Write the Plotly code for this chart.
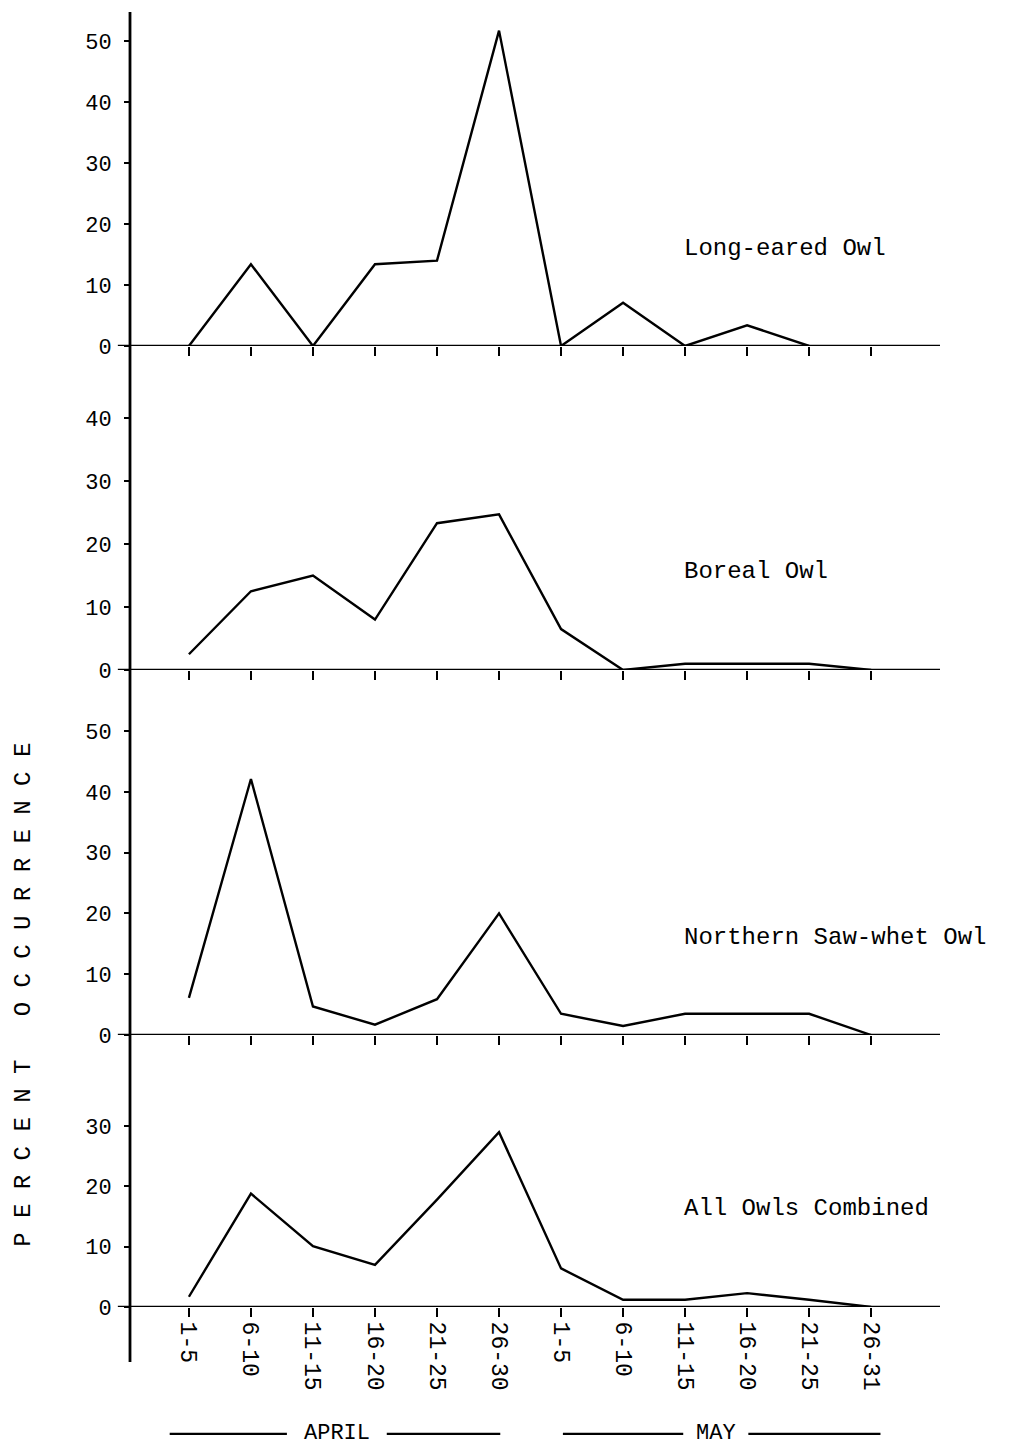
import plotly.graph_objects as go

periods = ["1-5", "6-10", "11-15", "16-20", "21-25", "26-30",
           "1-5", "6-10", "11-15", "16-20", "21-25", "26-31"]
long_eared = [0, 13.4, 0, 13.4, 14, 51.7, 0, 7.1, 0, 3.4, 0, None]
boreal = [2.5, 12.5, 15, 8, 23.3, 24.7, 6.5, 0, 1, 1, 1, 0]
saw_whet = [6.1, 42.1, 4.7, 1.7, 5.9, 20, 3.5, 1.5, 3.5, 3.5, 3.5, 0]
all_owls = [1.7, 18.8, 10.1, 7.0, 17.8, 29, 6.4, 1.2, 1.2, 2.3, 1.2, 0]

species = ["Long-eared Owl", "Boreal Owl", "Northern Saw-whet Owl", "All Owls Combined"]
series = [long_eared, boreal, saw_whet, all_owls]
y_ticks = [[0, 10, 20, 30, 40, 50], [0, 10, 20, 30, 40], [0, 10, 20, 30, 40, 50], [0, 10, 20, 30]]
y_ranges = [[0, 54.75], [0, 51.43], [0, 60.03], [0, 45.1]]
domains = [[0.7421, 1.0], [0.4919, 0.7421], [0.2100, 0.4919], [0.0, 0.2100]]
label_pos = [15.9, 15.6, 16.1, 16.4]

x_idx = list(range(len(periods)))
FONT = "Liberation Mono, Courier New, monospace"

fig = go.Figure()
layout = dict(
    width=1004, height=1437,
    margin=dict(l=122, r=72, t=4, b=138),
    paper_bgcolor="white", plot_bgcolor="white",
    showlegend=False,
    font=dict(family=FONT, color="black"),
)
shapes = []
annotations = []

for i, (name, vals) in enumerate(zip(species, series)):
    n = "" if i == 0 else str(i + 1)
    fig.add_trace(go.Scatter(x=x_idx, y=vals, mode="lines",
                             line=dict(color="black", width=2.4),
                             xaxis="x" + n, yaxis="y" + n, name=name))
    layout["xaxis" + n] = dict(
        domain=[0, 1], anchor="y" + n, range=[-0.95, 12.11],
        tickmode="array", tickvals=x_idx,
        ticktext=periods if i == 3 else [""] * len(periods),
        showticklabels=(i == 3), tickangle=90,
        ticks="outside", ticklen=9, tickwidth=2, tickcolor="black",
        showline=False, showgrid=False, zeroline=False,
        tickfont=dict(family=FONT, size=23, color="black"),
        **({} if i == 0 else {"matches": "x"}),
    )
    layout["yaxis" + n] = dict(
        domain=domains[i], anchor="x" + n, range=y_ranges[i],
        tickmode="array", tickvals=y_ticks[i],
        ticks="outside", ticklen=5, tickwidth=2, tickcolor="black",
        showline=False, showgrid=False, zeroline=False,
        ticklabelstandoff=8,
        tickfont=dict(family=FONT, size=22, color="black"),
    )
    shapes.append(dict(type="line", xref="paper", yref="y" + n,
                       x0=-0.015, x1=1.0, y0=0, y1=0,
                       line=dict(color="black", width=2.6)))
    annotations.append(dict(text=name, xref="x", yref="y" + n,
                            x=7.95, y=label_pos[i], xanchor="left", yanchor="middle",
                            showarrow=False,
                            font=dict(family=FONT, size=24, color="black")))

# main vertical axis line (extends below bottom panel)
shapes.append(dict(type="line", xref="paper", yref="paper",
                   x0=0, x1=0, y0=-0.0425, y1=1.0,
                   line=dict(color="black", width=2.8)))

# month brackets
month_y = -0.098
for x0, x1 in [(-0.31, 1.58), (3.19, 5.02), (6.03, 7.97), (9.02, 11.15)]:
    shapes.append(dict(type="line", xref="x", yref="paper",
                       x0=x0, x1=x1, y0=month_y, y1=month_y,
                       line=dict(color="black", width=2.2)))
for txt, xc in [("APRIL", 2.38), ("MAY", 8.5)]:
    annotations.append(dict(text=txt, xref="x", yref="paper", x=xc, y=month_y,
                            xanchor="center", yanchor="middle", showarrow=False,
                            font=dict(family=FONT, size=22, color="black")))

nb = "\u00a0"
ytitle = nb.join("PERCENT") + nb * 3 + nb.join("OCCURRENCE")
annotations.append(dict(text=ytitle, xref="paper", yref="paper",
                        x=-0.131, y=0.241, xanchor="center", yanchor="middle",
                        textangle=-90, showarrow=False,
                        font=dict(family=FONT, size=24, color="black")))

layout["shapes"] = shapes
layout["annotations"] = annotations
fig.update_layout(**layout)
fig.write_html("out.html")
